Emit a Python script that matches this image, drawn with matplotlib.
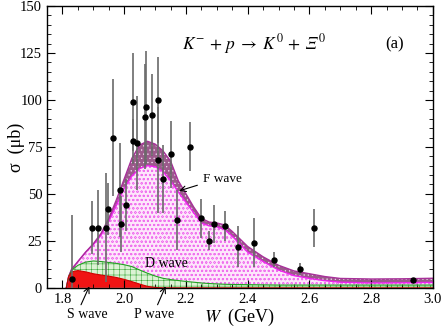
import matplotlib
matplotlib.use("Agg")
import matplotlib.pyplot as plt
from matplotlib.ticker import MultipleLocator

plt.rcParams['font.family'] = ['Liberation Serif', 'DejaVu Serif']
plt.rcParams['mathtext.fontset'] = 'stix'
plt.rcParams['hatch.linewidth'] = 0.4

# ---- data points (W in GeV, sigma in microbarn, error) ----
w_data = [1.832, 1.897, 1.916, 1.941, 1.947, 1.965, 1.985, 1.990, 2.006, 2.028,
          2.027, 2.041, 2.066, 2.070, 2.090, 2.109, 2.110, 2.126, 2.152, 2.170,
          2.213, 2.248, 2.275, 2.290, 2.327, 2.368, 2.420, 2.484, 2.569, 2.615,
          2.934]
sig_data = [4.5, 32, 32, 32, 42, 80, 52, 34, 44, 99,
            78, 77, 91, 96, 92, 100, 68, 58, 71, 36,
            75, 37, 25, 34, 33, 22, 24, 15, 10, 32,
            4]
err_data = [34, 14, 20, 29, 14, 31, 25, 15, 14, 26,
            12, 25, 28, 30, 22, 23, 28, 18, 18, 16,
            13, 10.5, 5, 10, 8, 11, 13, 4, 3, 10,
            1.5]

# ---- model curves ----
w_curve = [1.8125, 1.82, 1.83, 1.85, 1.875, 1.90, 1.925, 1.95, 1.975, 2.0,
           2.025, 2.05, 2.075, 2.10, 2.125, 2.15, 2.175, 2.20, 2.225, 2.25,
           2.275, 2.30, 2.325, 2.35, 2.40, 2.45, 2.50, 2.55, 2.60, 2.65,
           2.70, 2.80, 2.90, 3.0]
total_upper = [0, 6, 10, 14, 19, 23.5, 29, 37, 47, 58,
               69, 76, 78, 76.5, 73, 67.5, 57, 50, 43, 37,
               35, 34.5, 33.5, 30, 22, 16.5, 12, 9, 7.5, 6,
               5, 4.7, 4.8, 5.1]
total_lower = [0, 6, 10, 14, 19, 23, 28, 35.5, 44, 53,
               59.5, 63.5, 65, 64.5, 62, 57, 51, 45.5, 40, 34.5,
               33, 32.5, 31, 27.5, 19, 14, 9.5, 6.5, 5, 3.8,
               3, 2.6, 2.7, 2.9]
d_wave = [0, 6, 9.5, 12, 13.7, 14.3, 14, 13.5, 13, 12.3,
          11.3, 9.5, 7.8, 6.3, 5.1, 4.4, 3.9, 3.4, 3.0, 2.6,
          2.3, 2.1, 1.9, 1.8, 1.7, 1.6, 1.5, 1.5, 1.5, 1.5,
          1.5, 1.5, 1.5, 1.5]
s_wave = [0, 6, 8.5, 9.2, 8.5, 7.5, 6.8, 6.2, 5.5, 4.5,
          3.3, 2.0, 0.8, 0.2, 0, 0, 0, 0, 0, 0,
          0, 0, 0, 0, 0, 0, 0, 0, 0, 0,
          0, 0, 0, 0]

fig = plt.figure(figsize=(4.44, 3.32), dpi=100)
ax = fig.add_axes([0.106, 0.133, 0.869, 0.849])

# F wave (total) region: pink dotted
ax.fill_between(w_curve, d_wave, total_lower, facecolor='#fde6fb',
                edgecolor='#f070ee', hatch='oooo', linewidth=0, zorder=1)
# uncertainty band of total
ax.fill_between(w_curve, total_lower, total_upper, facecolor='#9c5a8c',
                edgecolor='#f4e4f4', hatch='....', linewidth=0, zorder=1)
# D wave region: green crosshatch
ax.fill_between(w_curve, s_wave, d_wave, facecolor='#dcf2d4',
                edgecolor='#3aa83a', hatch='+++', linewidth=0, zorder=1)
# S wave region: red
ax.fill_between(w_curve, 0, s_wave, facecolor='#f01414', linewidth=0, zorder=1)

ax.plot(w_curve, total_lower, color='#ee22ee', lw=1.0, zorder=2)
ax.plot(w_curve, total_upper, color='#a8309a', lw=1.0, zorder=2)
ax.plot(w_curve, d_wave, color='#22a022', lw=0.8, zorder=2)
ax.plot(w_curve, s_wave, color='#d00000', lw=0.8, zorder=2)

ax.errorbar(w_data, sig_data, yerr=err_data, fmt='o', color='black',
            ecolor='#6a6a6a', elinewidth=1.2, markersize=3.6, capsize=0, zorder=3)

ax.set_xlim(1.75, 3.0)
ax.set_ylim(0, 150)
ax.xaxis.set_minor_locator(MultipleLocator(0.05))
ax.yaxis.set_major_locator(MultipleLocator(25))
ax.yaxis.set_minor_locator(MultipleLocator(5))
ax.set_xticks([1.8, 2.0, 2.2, 2.4, 2.6, 2.8, 3.0])
ax.set_xticklabels(['1.8', '2.0', '2.2', '2.4', '2.6', '2.8', '3.0'])
ax.tick_params(which='both', direction='in', top=True, right=True, labelsize=10.5)
ax.tick_params(which='major', length=6)
ax.tick_params(which='minor', length=3)
for s in ax.spines.values():
    s.set_linewidth(1.0)

ax.set_xlabel(r'$W$  (GeV)', fontsize=13, labelpad=1)
ax.set_ylabel('σ  (μb)', fontsize=13)
ax.yaxis.set_label_coords(-0.056, 0.5)

ax.text(2.42, 130, r'$K^{-}\,+\,p\;\rightarrow\;K^{0}\,+\,𝛯^{0}$', fontsize=12.5,
        ha='center', va='center')
ax.text(2.875, 129.5, '(a)', fontsize=12, ha='center', va='center')

ax.text(2.255, 57.8, 'F wave', fontsize=9.5, ha='left', va='center')
ax.annotate('', xy=(2.178, 51.6), xytext=(2.237, 54.6),
            arrowprops=dict(arrowstyle='->', color='black', lw=0.8,
                            shrinkA=0, shrinkB=0))
ax.text(2.137, 12.9, 'D wave', fontsize=10, ha='center', va='center')
ax.text(1.880, -14.3, 'S wave', fontsize=10, ha='center', va='center', clip_on=False)
ax.annotate('', xy=(1.887, 0.8), xytext=(1.860, -9.0), annotation_clip=False,
            arrowprops=dict(arrowstyle='->', color='black', lw=0.8,
                            shrinkA=0, shrinkB=0))
ax.text(2.098, -14.3, 'P wave', fontsize=10, ha='center', va='center', clip_on=False)
ax.annotate('', xy=(2.134, 0.8), xytext=(2.108, -9.0), annotation_clip=False,
            arrowprops=dict(arrowstyle='->', color='black', lw=0.8,
                            shrinkA=0, shrinkB=0))

fig.savefig('out.png', dpi=100)
